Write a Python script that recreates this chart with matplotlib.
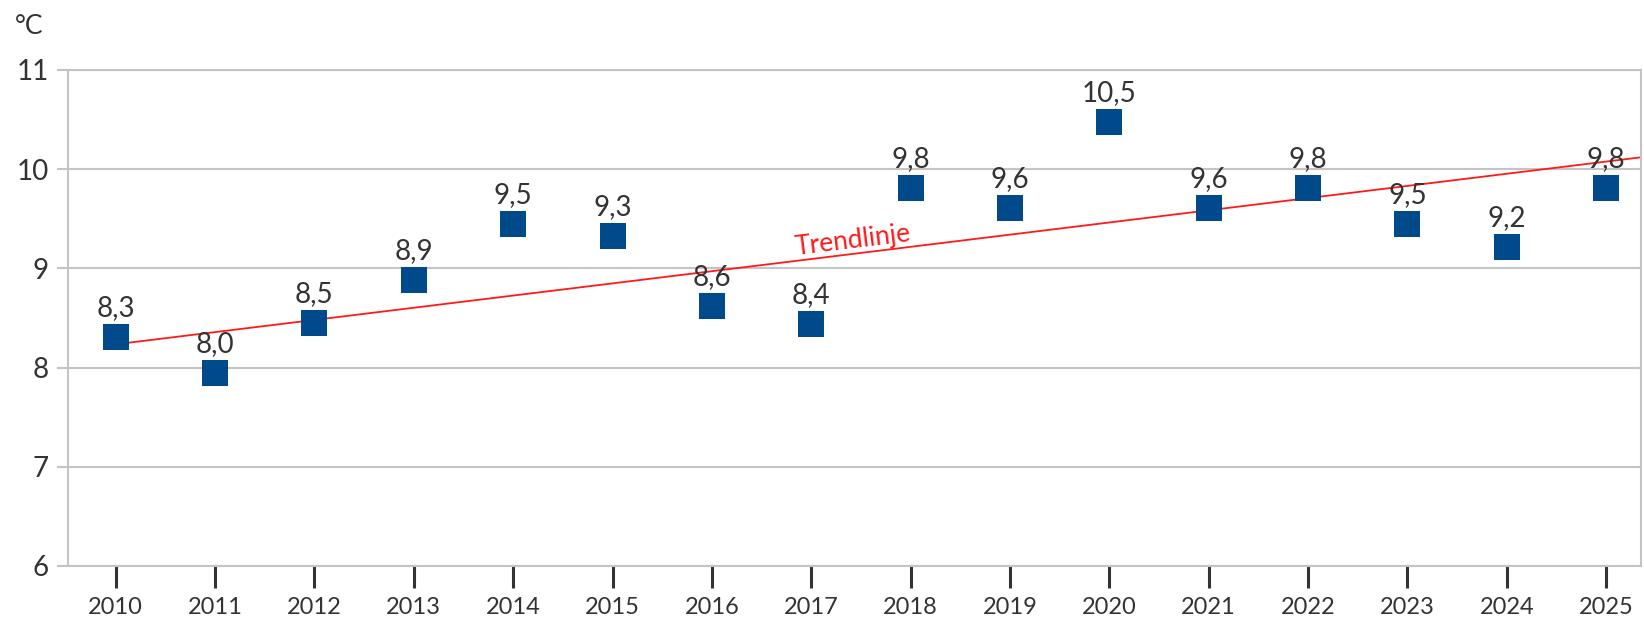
import matplotlib
matplotlib.use("Agg")
from matplotlib import pyplot as plt

years = list(range(2010, 2026))
# marker heights, labels as printed
temps = [8.31, 7.95, 8.45, 8.88, 9.45, 9.33, 8.62, 8.44,
         9.81, 9.61, 10.48, 9.61, 9.81, 9.45, 9.22, 9.81]
labels = ["8,3", "8,0", "8,5", "8,9", "9,5", "9,3", "8,6", "8,4",
          "9,8", "9,6", "10,5", "9,6", "9,8", "9,5", "9,2", "9,8"]

# trend line end points
trend_x = [2010, 2025.35]
trend_y = [8.235, 10.12]

plt.rcParams['font.family'] = ['Lato', 'DejaVu Sans']
text_col = '#333333'
grid_col = '#c4c4c4'
blue = '#004a8c'
red = '#ff1a1a'

fig = plt.figure(figsize=(16.44, 6.22), dpi=100)
ax = fig.add_axes([68/1644, 56/622, (1641-68)/1644, 496/622])

ax.set_xlim(2009.52, 2025.35)
ax.set_ylim(6, 11)

ax.set_yticks([6, 7, 8, 9, 10, 11])
ax.set_xticks(years)
ax.set_xticklabels([str(y) for y in years])
ax.grid(axis='y', color=grid_col, lw=1.5, zorder=0)
for s in ax.spines.values():
    s.set_color(grid_col)
    s.set_linewidth(1.5)

ax.tick_params(axis='y', length=8, width=1.5, color=grid_col, pad=6,
               labelsize=20, labelcolor=text_col)
ax.tick_params(axis='x', length=16, width=2.2, color=text_col, pad=6,
               labelsize=17, labelcolor=text_col)

ax.plot(trend_x, trend_y, color=red, lw=1.3, zorder=2)
ax.text(2017.42, 9.28, 'Trendlinje', color=red, fontsize=19,
        rotation=7, ha='center', va='center', rotation_mode='anchor', zorder=3)

ax.scatter(years, temps, marker='s', s=330, color=blue, zorder=4, linewidths=0)
for x, y, t in zip(years, temps, labels):
    ax.annotate(t, (x, y), xytext=(0, 15), textcoords='offset points',
                ha='center', va='baseline', fontsize=20, color=text_col, zorder=5)

fig.text(15/1644, 1-27/622, '°C', fontsize=19, color=text_col, va='center', ha='left')

fig.savefig('out.png', dpi=100)
